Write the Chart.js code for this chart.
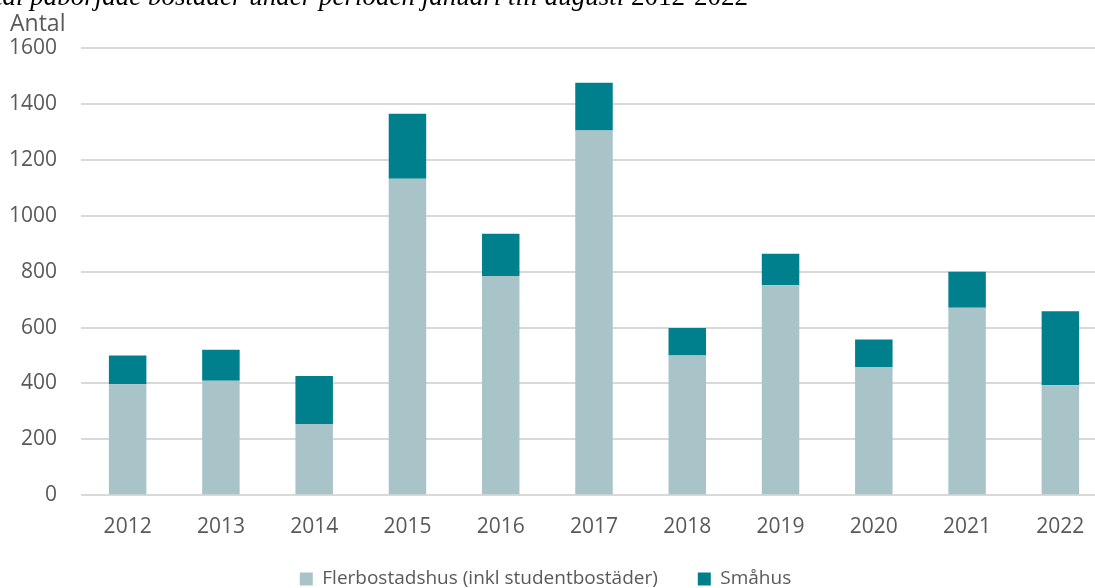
<!DOCTYPE html>
<html>
<head>
<meta charset="utf-8">
<script src="https://cdn.jsdelivr.net/npm/chart.js@4"></script>
<style>
  html, body { margin: 0; padding: 0; background: #ffffff; overflow: hidden; }
  #wrap { position: relative; width: 1107px; height: 588px; }
</style>
</head>
<body>
<div id="wrap"><canvas id="c"></canvas></div>
<script>
const categories = ['2012', '2013', '2014', '2015', '2016', '2017', '2018', '2019', '2020', '2021', '2022'];
const flerbostadshus = [397, 410, 255, 1132, 784, 1305, 500, 751, 459, 671, 394];
const smahus = [103, 111, 172, 233, 152, 171, 98, 113, 98, 129, 264];
const seriesNames = ['Flerbostadshus (inkl studentbostäder)', 'Småhus'];
const yTickValues = [0, 200, 400, 600, 800, 1000, 1200, 1400, 1600];
const yAxisTitle = 'Antal';
const titleItalic = 'Antal påbörjade bostäder under perioden januari till augusti ';
const titleUpright = '2012-2022';

const textColor = '#595959';

const extrasPlugin = {
  id: 'extras',
  afterLayout(chart) {
    if (chart.legend) {
      chart.legend.left -= 8;
      chart.legend.right -= 8;
      chart.legend.top -= 29;
      chart.legend.bottom -= 29;
    }
  },
  afterDraw(chart) {
    const ctx = chart.ctx;
    ctx.save();
    // cut-off title at the very top
    ctx.fillStyle = '#000000';
    ctx.textBaseline = 'alphabetic';
    ctx.textAlign = 'right';
    ctx.font = '27px "Liberation Serif", "DejaVu Serif", serif';
    const uprightW = ctx.measureText(titleUpright).width;
    ctx.fillText(titleUpright, 748, 5);
    ctx.font = 'italic 27px "Liberation Serif", "DejaVu Serif", serif';
    ctx.fillText(titleItalic, 748 - uprightW, 5);
    // axis unit label
    ctx.textAlign = 'left';
    ctx.fillStyle = textColor;
    ctx.font = '23px "Open Sans", sans-serif';
    ctx.fillText(yAxisTitle, 10, 31);
    ctx.restore();
  }
};

new Chart(document.getElementById('c'), {
  type: 'bar',
  data: {
    labels: categories,
    datasets: [
      {
        label: seriesNames[0],
        data: flerbostadshus,
        backgroundColor: '#A8C4C9',
        borderWidth: 0,
        categoryPercentage: 0.402,
        barPercentage: 1
      },
      {
        label: seriesNames[1],
        data: smahus,
        backgroundColor: '#00808C',
        borderWidth: 0,
        categoryPercentage: 0.402,
        barPercentage: 1
      }
    ]
  },
  options: {
    responsive: true,
    maintainAspectRatio: false,
    animation: false,
    devicePixelRatio: 1,
    layout: { padding: { top: 48, left: 0, right: 0, bottom: -39.5 } },
    plugins: {
      legend: {
        position: 'bottom',
        labels: {
          boxWidth: 13,
          boxHeight: 13,
          padding: 40,
          color: textColor,
          font: { family: '"Open Sans", sans-serif', size: 19 }
        }
      },
      tooltip: { enabled: false },
      title: { display: false }
    },
    scales: {
      x: {
        stacked: true,
        grid: { display: false, drawTicks: false },
        border: { display: false },
        ticks: {
          color: textColor,
          padding: 19,
          font: { family: '"Open Sans", sans-serif', size: 21 },
          maxRotation: 0
        }
      },
      y: {
        stacked: true,
        min: 0,
        max: 1600,
        afterFit(scale) { scale.width = 81; },
        afterBuildTicks(scale) { scale.ticks = yTickValues.map(v => ({ value: v })); },
        grid: { color: '#D9D9D9', lineWidth: 2, drawTicks: false },
        border: { display: false },
        ticks: {
          color: textColor,
          padding: 24,
          font: { family: '"Open Sans", sans-serif', size: 21 },
          callback: (v) => String(v)
        }
      }
    }
  },
  plugins: [extrasPlugin]
});
</script>
</body>
</html>
